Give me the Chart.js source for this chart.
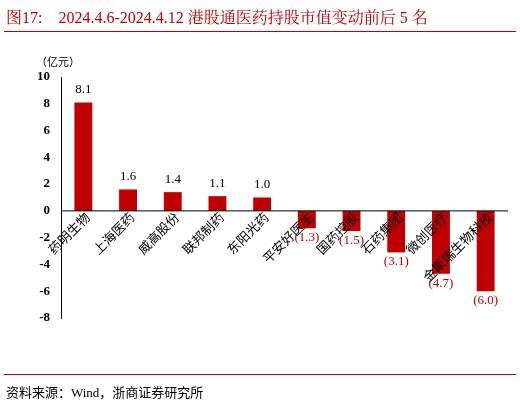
<!DOCTYPE html><html><head><meta charset="utf-8">
<script src="https://cdn.jsdelivr.net/npm/chart.js@4"></script>
<style>body{margin:0;width:520px;height:406px;position:relative;background:#fff;font-family:"Times New Roman","Liberation Serif","Noto Sans CJK SC",serif}
#t{position:absolute;left:6px;top:5px;color:#c00000;font-size:16px;font-family:"Liberation Serif","Noto Serif CJK SC","Noto Sans CJK SC";white-space:nowrap}
#l1{position:absolute;left:4px;right:4px;top:31px;border-top:1.5px solid #c00000}
#l2{position:absolute;left:4px;right:4px;top:374px;border-top:1px solid #c00000}
#s{position:absolute;left:6px;top:382px;font-size:13px;font-family:"Liberation Serif","Noto Sans CJK SC"}
#w{position:absolute;left:0;top:0;width:520px;height:406px}</style></head><body>
<div id="w"><canvas id="c" width="520" height="406"></canvas></div>
<div id="t">图17:&nbsp;&nbsp;&nbsp;&nbsp;2024.4.6-2024.4.12 港股通医药持股市值变动前后 5 名</div>
<div id="l1"></div><div id="l2"></div>
<div id="s">资料来源：Wind，浙商证券研究所</div>
<script>
const categories=["药明生物","上海医药","威高股份","联邦制药","东阳光药","平安好医生","国药控股","石药集团","微创医疗","金斯瑞生物科技"];
const values=[8.1,1.6,1.4,1.1,1.0,-1.3,-1.5,-3.1,-4.7,-6.0];
const yTicks=[10,8,6,4,2,0,-2,-4,-6,-8];
const lab={id:'lab',afterDatasetsDraw(ch){const x=ch.scales.x,y=ch.scales.y,c=ch.ctx;const y0=y.getPixelForValue(0);
c.save();c.strokeStyle='#000';c.lineWidth=1;c.beginPath();c.moveTo(ch.chartArea.left,y0);c.lineTo(ch.chartArea.right,y0);c.stroke();
values.forEach((v,i)=>{const px=x.getPixelForValue(i),py=y.getPixelForValue(v);
c.font='13px "Liberation Serif"';c.textAlign='center';
if(v>=0){c.fillStyle='#000';c.textBaseline='bottom';c.fillText(v.toFixed(1),px,py-6);}
else{c.fillStyle='#c00000';c.textBaseline='top';c.fillText('('+Math.abs(v).toFixed(1)+')',px,py+3);}
c.save();c.translate(px+4,y0+4);c.rotate(-Math.PI/4);c.font='13px "Noto Sans CJK SC"';c.fillStyle='#000';c.textAlign='right';c.textBaseline='middle';c.fillText(categories[i],0,0);c.restore();});
c.font='11px "Noto Sans CJK SC"';c.fillStyle='#000';c.textAlign='left';c.textBaseline='middle';c.fillText('（亿元）',36,62);
c.restore();}};
new Chart(document.getElementById('c'),{type:'bar',data:{labels:categories,datasets:[{data:values,backgroundColor:'#c00000',barPercentage:0.4,categoryPercentage:1}]},
options:{responsive:false,animation:false,layout:{padding:{top:77,bottom:80,right:12,left:34}},plugins:{legend:{display:false},tooltip:{enabled:false}},
scales:{x:{grid:{display:false},border:{display:false},ticks:{display:false}},
y:{min:-8,max:10,afterBuildTicks(s){s.ticks=yTicks.map(v=>({value:v}));},grid:{display:false},border:{color:'#000'},ticks:{color:'#000',font:{family:'Liberation Serif',size:13,weight:'bold'}}}}},plugins:[lab]});
</script></body></html>
